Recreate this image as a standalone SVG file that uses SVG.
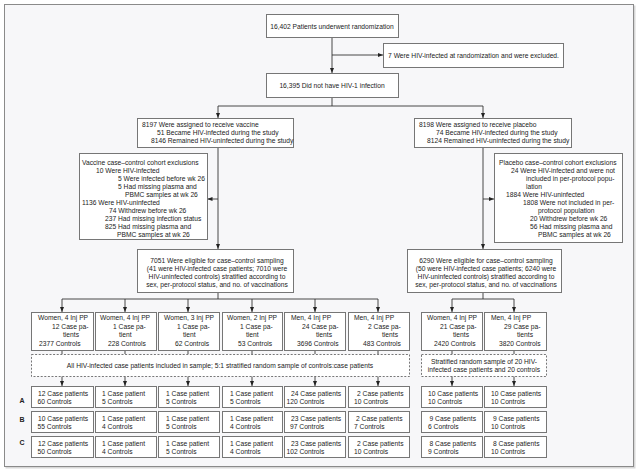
<svg xmlns="http://www.w3.org/2000/svg" width="640" height="474" viewBox="0 0 640 474">
<defs>
<style>
.bx{fill:#fff;stroke:#767676;stroke-width:1}
.ds{fill:#fff;stroke:#555;stroke-width:0.8;stroke-dasharray:2,1.6}
.t{font-family:"Liberation Sans",Arial,sans-serif;font-size:6.7px;fill:#222}
.c{text-anchor:middle}
.lb{font-family:"Liberation Sans",Arial,sans-serif;font-size:7px;font-weight:bold;fill:#222;text-anchor:middle}
.ln{stroke:#333;stroke-width:0.9;fill:none}
.ar{stroke:#333;stroke-width:0.9;fill:none;marker-end:url(#ah)}
</style>
<marker id="ah" markerUnits="userSpaceOnUse" markerWidth="5" markerHeight="4" refX="5" refY="2" orient="auto">
<path d="M0,0 L5,2 L0,4 z" fill="#222"/>
</marker>
</defs>
<rect x="0" y="0" width="640" height="474" fill="#fff"/>
<rect x="5.5" y="5.5" width="630" height="463" fill="#d8d8d8"/>
<rect x="4.5" y="4.5" width="629" height="462" fill="#f7f7f9" stroke="#8a8a8a" stroke-width="1"/>

<g id="connectors">
<path class="ar" d="M332,37 V73"/>
<path class="ar" d="M332,55 H383"/>
<path class="ln" d="M332,97 V106 M218,106 H483"/>
<path class="ar" d="M218,106 V118"/>
<path class="ar" d="M483,106 V118"/>
<path class="ar" d="M218,147 V249"/>
<path class="ar" d="M218,199 H207.5"/>
<path class="ar" d="M483,147 V249"/>
<path class="ar" d="M483,199 H494"/>
<path class="ln" d="M218,292 V299 M62,299 H378"/>
<path class="ar" d="M62,299 V312"/>
<path class="ar" d="M125,299 V312"/>
<path class="ar" d="M188,299 V312"/>
<path class="ar" d="M252,299 V312"/>
<path class="ar" d="M315,299 V312"/>
<path class="ar" d="M378,299 V312"/>
<path class="ln" d="M483,292 V299 M452,299 H514"/>
<path class="ar" d="M452,299 V312"/>
<path class="ar" d="M514,299 V312"/>
<path class="ln" d="M62,350 V354 M125,350 V354 M188,350 V354 M252,350 V354 M315,350 V354 M378,350 V354 M452,350 V354 M514,350 V354"/>
<path class="ar" d="M62,376 V386"/>
<path class="ar" d="M125,376 V386"/>
<path class="ar" d="M188,376 V386"/>
<path class="ar" d="M252,376 V386"/>
<path class="ar" d="M315,376 V386"/>
<path class="ar" d="M378,376 V386"/>
<path class="ar" d="M452,376 V386"/>
<path class="ar" d="M514,376 V386"/>
</g>

<g id="randomized">
<rect class="bx" x="266.5" y="14.5" width="132" height="23"/>
<text class="t c" x="332" y="28.5">16,402 Patients underwent randomization</text>
</g>
<g id="excluded">
<rect class="bx" x="383.5" y="43.5" width="180" height="24"/>
<text class="t c" x="473.5" y="58">7 Were HIV-infected at randomization and were excluded.</text>
</g>
<g id="not-infected">
<rect class="bx" x="266.5" y="73.5" width="132" height="24"/>
<text class="t c" x="332" y="88">16,395 Did not have HIV-1 infection</text>
</g>

<g id="vaccine">
<rect class="bx" x="137.5" y="118.5" width="156" height="29"/>
<text class="t" x="142" y="127">8197 Were assigned to receive vaccine</text>
<text class="t" x="157" y="135">51 Became HIV-infected during the study</text>
<text class="t" x="151" y="143">8146 Remained HIV-uninfected during the study</text>
</g>
<g id="placebo">
<rect class="bx" x="414.5" y="118.5" width="157" height="29"/>
<text class="t" x="419" y="127">8198 Were assigned to receive placebo</text>
<text class="t" x="436" y="135">74 Became HIV-infected during the study</text>
<text class="t" x="427" y="143">8124 Remained HIV-uninfected during the study</text>
</g>

<g id="vaccine-exclusions">
<rect class="bx" x="79.5" y="153.5" width="128" height="86"/>
<text class="t" x="82" y="164.5">Vaccine case–control cohort exclusions</text>
<text class="t" x="96" y="172.5">10 Were HIV-infected</text>
<text class="t" x="118" y="180.5">5 Were infected before wk 26</text>
<text class="t" x="118" y="188.5">5 Had missing plasma and</text>
<text class="t" x="125" y="196.5">PBMC samples at wk 26</text>
<text class="t" x="82" y="204.5">1136 Were HIV-uninfected</text>
<text class="t" x="109" y="212.5">74 Withdrew before wk 26</text>
<text class="t" x="105" y="220.5">237 Had missing infection status</text>
<text class="t" x="105" y="228.5">825 Had missing plasma and</text>
<text class="t" x="117" y="236.5">PBMC samples at wk 26</text>
</g>
<g id="placebo-exclusions">
<rect class="bx" x="494.5" y="153.5" width="128" height="89"/>
<text class="t" x="499" y="164.5">Placebo case–control cohort exclusions</text>
<text class="t" x="511" y="172.5">24 Were HIV-infected and were not</text>
<text class="t" x="526" y="180.5">included in per-protocol popu-</text>
<text class="t" x="526" y="188.5">lation</text>
<text class="t" x="506" y="196.5">1884 Were HIV-uninfected</text>
<text class="t" x="523" y="204.5">1808 Were not included in per-</text>
<text class="t" x="538" y="212.5">protocol population</text>
<text class="t" x="530" y="220.5">20 Withdrew before wk 26</text>
<text class="t" x="530" y="228.5">56 Had missing plasma and</text>
<text class="t" x="538" y="236.5">PBMC samples at wk 26</text>
</g>

<g id="vaccine-eligible">
<rect class="bx" x="137.5" y="249.5" width="156" height="43"/>
<text class="t c" x="217" y="262.5">7051 Were eligible for case–control sampling</text>
<text class="t c" x="217" y="270.5">(41 were HIV-infected case patients; 7010 were</text>
<text class="t c" x="217" y="278.5">HIV-uninfected controls) stratified according to</text>
<text class="t c" x="217" y="286.5">sex, per-protocol status, and no. of vaccinations</text>
</g>
<g id="placebo-eligible">
<rect class="bx" x="407.5" y="249.5" width="154" height="43"/>
<text class="t c" x="486" y="262.5">6290 Were eligible for case–control sampling</text>
<text class="t c" x="486" y="270.5">(50 were HIV-infected case patients; 6240 were</text>
<text class="t c" x="486" y="278.5">HIV-uninfected controls) stratified according to</text>
<text class="t c" x="486" y="286.5">sex, per-protocol status, and no. of vaccinations</text>
</g>

<g id="s1"><rect class="bx" x="31.5" y="312.5" width="62" height="38"/>
<text class="t" x="38" y="320">Women, 4 Inj PP</text><text class="t" x="52" y="328.5">12 Case pa-</text><text class="t" x="63" y="337">tients</text><text class="t" x="39" y="345.5">2377 Controls</text></g>
<g id="s2"><rect class="bx" x="95.5" y="312.5" width="61" height="38"/>
<text class="t" x="100" y="320">Women, 4 Inj PP</text><text class="t" x="113" y="328.5">1 Case pa-</text><text class="t" x="119" y="337">tient</text><text class="t" x="108" y="345.5">228 Controls</text></g>
<g id="s3"><rect class="bx" x="158.5" y="312.5" width="61" height="38"/>
<text class="t" x="164" y="320">Women, 3 Inj PP</text><text class="t" x="177" y="328.5">1 Case pa-</text><text class="t" x="183" y="337">tient</text><text class="t" x="175" y="345.5">62 Controls</text></g>
<g id="s4"><rect class="bx" x="222.5" y="312.5" width="60" height="38"/>
<text class="t" x="227" y="320">Women, 2 Inj PP</text><text class="t" x="240" y="328.5">1 Case pa-</text><text class="t" x="246" y="337">tient</text><text class="t" x="238" y="345.5">53 Controls</text></g>
<g id="s5"><rect class="bx" x="284.5" y="312.5" width="61" height="38"/>
<text class="t" x="291" y="320">Men, 4 Inj PP</text><text class="t" x="302" y="328.5">24 Case pa-</text><text class="t" x="316" y="337">tients</text><text class="t" x="297" y="345.5">3696 Controls</text></g>
<g id="s6"><rect class="bx" x="348.5" y="312.5" width="61" height="38"/>
<text class="t" x="354" y="320">Men, 4 Inj PP</text><text class="t" x="368" y="328.5">2 Case pa-</text><text class="t" x="382" y="337">tients</text><text class="t" x="363" y="345.5">483 Controls</text></g>
<g id="s7"><rect class="bx" x="421.5" y="312.5" width="61" height="38"/>
<text class="t" x="427" y="320">Women, 4 Inj PP</text><text class="t" x="440" y="328.5">21 Case pa-</text><text class="t" x="453" y="337">tients</text><text class="t" x="434" y="345.5">2420 Controls</text></g>
<g id="s8"><rect class="bx" x="484.5" y="312.5" width="62" height="38"/>
<text class="t" x="491" y="320">Men, 4 Inj PP</text><text class="t" x="504" y="328.5">29 Case pa-</text><text class="t" x="517" y="337">tients</text><text class="t" x="499" y="345.5">3820 Controls</text></g>

<g id="vaccine-sampling">
<rect class="ds" x="31.5" y="354.5" width="378" height="22"/>
<text class="t c" x="220" y="368">All HIV-infected case patients included in sample; 5:1 stratified random sample of controls:case patients</text>
</g>
<g id="placebo-sampling">
<rect class="ds" x="421.5" y="354.5" width="125" height="22"/>
<text class="t c" x="484" y="363.5">Stratified random sample of 20 HIV-</text>
<text class="t c" x="484" y="371.5">infected case patients and 20 controls</text>
</g>

<g id="labels">
<text class="lb" x="22" y="403">A</text>
<text class="lb" x="22" y="421.5">B</text>
<text class="lb" x="22" y="444.5">C</text>
</g>

<g id="rowA">
<rect class="bx" x="31.5" y="386.5" width="62" height="21"/><text class="t" x="38" y="396">12 Case patients</text><text class="t" x="37.5" y="404">60 Controls</text>
<rect class="bx" x="95.5" y="386.5" width="61" height="21"/><text class="t" x="102" y="396">1 Case patient</text><text class="t" x="102" y="404">5 Controls</text>
<rect class="bx" x="158.5" y="386.5" width="61" height="21"/><text class="t" x="166" y="396">1 Case patient</text><text class="t" x="166" y="404">5 Controls</text>
<rect class="bx" x="222.5" y="386.5" width="60" height="21"/><text class="t" x="230" y="396">1 Case patient</text><text class="t" x="230" y="404">5 Controls</text>
<rect class="bx" x="284.5" y="386.5" width="61" height="21"/><text class="t" x="291" y="396">24 Case patients</text><text class="t" x="286.5" y="404">120 Controls</text>
<rect class="bx" x="348.5" y="386.5" width="61" height="21"/><text class="t" x="357" y="396">2 Case patients</text><text class="t" x="354" y="404">10 Controls</text>
<rect class="bx" x="421.5" y="386.5" width="61" height="21"/><text class="t" x="428" y="396">10 Case patients</text><text class="t" x="428" y="404">10 Controls</text>
<rect class="bx" x="484.5" y="386.5" width="62" height="21"/><text class="t" x="491" y="396">10 Case patients</text><text class="t" x="491" y="404">10 Controls</text>
</g>
<g id="rowB">
<rect class="bx" x="31.5" y="411.5" width="62" height="21"/><text class="t" x="38" y="421">10 Case patients</text><text class="t" x="37.5" y="429">55 Controls</text>
<rect class="bx" x="95.5" y="411.5" width="61" height="21"/><text class="t" x="102" y="421">1 Case patient</text><text class="t" x="102" y="429">4 Controls</text>
<rect class="bx" x="158.5" y="411.5" width="61" height="21"/><text class="t" x="166" y="421">1 Case patient</text><text class="t" x="166" y="429">5 Controls</text>
<rect class="bx" x="222.5" y="411.5" width="60" height="21"/><text class="t" x="230" y="421">1 Case patient</text><text class="t" x="230" y="429">4 Controls</text>
<rect class="bx" x="284.5" y="411.5" width="61" height="21"/><text class="t" x="291" y="421">23 Case patients</text><text class="t" x="290" y="429">97 Controls</text>
<rect class="bx" x="348.5" y="411.5" width="61" height="21"/><text class="t" x="356" y="421">2 Case patients</text><text class="t" x="354" y="429">7 Controls</text>
<rect class="bx" x="421.5" y="411.5" width="61" height="21"/><text class="t" x="429.5" y="421">9 Case patients</text><text class="t" x="428" y="429">6 Controls</text>
<rect class="bx" x="484.5" y="411.5" width="62" height="21"/><text class="t" x="493" y="421">9 Case patients</text><text class="t" x="491" y="429">10 Controls</text>
</g>
<g id="rowC">
<rect class="bx" x="31.5" y="436.5" width="62" height="21"/><text class="t" x="38" y="446">12 Case patients</text><text class="t" x="37.5" y="454">50 Controls</text>
<rect class="bx" x="95.5" y="436.5" width="61" height="21"/><text class="t" x="102" y="446">1 Case patient</text><text class="t" x="102" y="454">4 Controls</text>
<rect class="bx" x="158.5" y="436.5" width="61" height="21"/><text class="t" x="166" y="446">1 Case patient</text><text class="t" x="166" y="454">5 Controls</text>
<rect class="bx" x="222.5" y="436.5" width="60" height="21"/><text class="t" x="230" y="446">1 Case patient</text><text class="t" x="230" y="454">4 Controls</text>
<rect class="bx" x="284.5" y="436.5" width="61" height="21"/><text class="t" x="291" y="446">23 Case patients</text><text class="t" x="286.5" y="454">102 Controls</text>
<rect class="bx" x="348.5" y="436.5" width="61" height="21"/><text class="t" x="357" y="446">2 Case patients</text><text class="t" x="354" y="454">10 Controls</text>
<rect class="bx" x="421.5" y="436.5" width="61" height="21"/><text class="t" x="429.5" y="446">8 Case patients</text><text class="t" x="428" y="454">9 Controls</text>
<rect class="bx" x="484.5" y="436.5" width="62" height="21"/><text class="t" x="493" y="446">8 Case patients</text><text class="t" x="491" y="454">10 Controls</text>
</g>
</svg>
